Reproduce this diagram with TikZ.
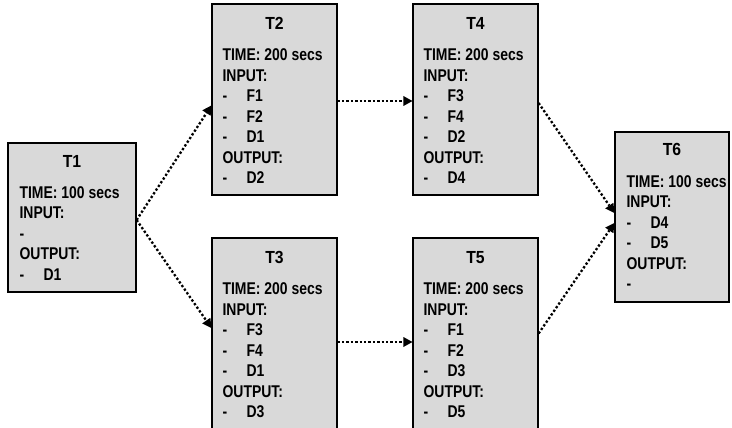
\documentclass[tikz,border=0pt]{standalone}
\usepackage{fontspec}
\newfontfamily\boxfont{Liberation Sans}[FakeStretch=0.82]
\newfontfamily\titlefont{Liberation Sans}[FakeStretch=0.9]
\usetikzlibrary{arrows.meta}
\definecolor{boxgray}{HTML}{D9D9D9}
\newcommand{\dashitem}[1]{\makebox[24pt][l]{-}#1}
\tikzset{
    task/.style={
        draw, fill=boxgray, line width=1.2pt, inner sep=0pt,
        minimum width=#1
    },
    tasktitle/.style={anchor=base, inner sep=0pt, font={\titlefont\bfseries\fontsize{17.5}{20}\selectfont}},
    taskbody/.style={anchor=north west, inner sep=0pt, align=left,
        font={\boxfont\bfseries\fontsize{17}{20.5}\selectfont}},
    flow/.style={
        line width=2.3pt, dash pattern=on 2.3pt off 2.1pt,
        -{Triangle[length=9pt,width=10pt,line width=0pt]}
    }
}

\begin{document}
\begin{tikzpicture}[x=1pt,y=-1pt]

		\useasboundingbox (0,0) rectangle (732,428);

		% Task T1
		\node [task=128pt, minimum height=149pt] (t1) at (72,217.5) {};
		\node [tasktitle] (t1 title) at ([yshift=-25pt]t1.north) {T1};
		\node [taskbody] (t1 body) at ([xshift=12pt,yshift=-44pt]t1.north west)
			{TIME: 100 secs \\ INPUT: \\ - \\ OUTPUT: \\ \dashitem{D1}};

		% Task T2
		\node [task=125pt, minimum height=191pt] (t2) at (274.5,99.5) {};
		\node [tasktitle] (t2 title) at ([yshift=-26pt]t2.north) {T2};
		\node [taskbody] (t2 body) at ([xshift=11pt,yshift=-45.5pt]t2.north west)
			{TIME: 200 secs \\ INPUT: \\ \dashitem{F1} \\ \dashitem{F2} \\ \dashitem{D1} \\ OUTPUT: \\ \dashitem{D2}};

		% Task T3
		\node [task=125pt, minimum height=191pt] (t3) at (274.5,333.5) {};
		\node [tasktitle] (t3 title) at ([yshift=-26pt]t3.north) {T3};
		\node [taskbody] (t3 body) at ([xshift=11pt,yshift=-45.5pt]t3.north west)
			{TIME: 200 secs \\ INPUT: \\ \dashitem{F3} \\ \dashitem{F4} \\ \dashitem{D1} \\ OUTPUT: \\ \dashitem{D3}};

		% Task T4
		\node [task=125pt, minimum height=191pt] (t4) at (475.5,99.5) {};
		\node [tasktitle] (t4 title) at ([yshift=-26pt]t4.north) {T4};
		\node [taskbody] (t4 body) at ([xshift=11pt,yshift=-45.5pt]t4.north west)
			{TIME: 200 secs \\ INPUT: \\ \dashitem{F3} \\ \dashitem{F4} \\ \dashitem{D2} \\ OUTPUT: \\ \dashitem{D4}};

		% Task T5
		\node [task=125pt, minimum height=191pt] (t5) at (475.5,333.5) {};
		\node [tasktitle] (t5 title) at ([yshift=-26pt]t5.north) {T5};
		\node [taskbody] (t5 body) at ([xshift=11pt,yshift=-45.5pt]t5.north west)
			{TIME: 200 secs \\ INPUT: \\ \dashitem{F1} \\ \dashitem{F2} \\ \dashitem{D3} \\ OUTPUT: \\ \dashitem{D5}};

		% Task T6
		\node [task=114pt, minimum height=170pt] (t6) at (672,217) {};
		\node [tasktitle] (t6 title) at ([yshift=-24pt]t6.north) {T6};
		\node [taskbody] (t6 body) at ([xshift=12pt,yshift=-44pt]t6.north west)
			{TIME: 100 secs \\ INPUT: \\ \dashitem{D4} \\ \dashitem{D5} \\ OUTPUT: \\ -};

		% Dependencies
		\draw [flow] ([yshift=-2.5pt]t1.east) -- ([yshift=-6pt]t2.west);
		\draw [flow] ([yshift=-2.5pt]t1.east) -- ([yshift=5.5pt]t3.west);
		\draw [flow] ([yshift=-1.5pt]t2.east) -- ([yshift=-1.5pt]t4.west);
		\draw [flow] ([yshift=-8.5pt]t3.east) -- ([yshift=-8.5pt]t5.west);
		\draw [flow] ([yshift=-3.5pt]t4.east) -- ([yshift=4pt]t6.west);
		\draw [flow] (t5.east) -- ([yshift=-6pt]t6.west);

	\end{tikzpicture}
\end{document}
